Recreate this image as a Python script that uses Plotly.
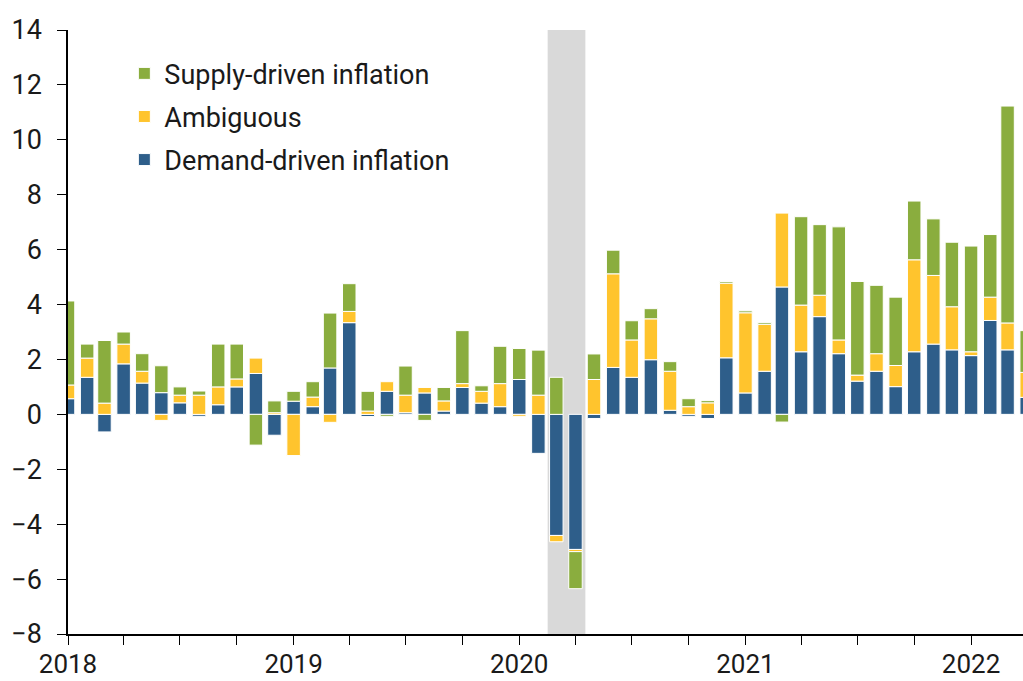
import pandas as pd
import plotly.graph_objects as go

# Monthly contributions to inflation (percentage points), Jan 2018 - Apr 2022
months = pd.date_range("2018-01-01", "2022-04-01", freq="MS")

demand = [
    0.57, 1.35, -0.64, 1.84, 1.14, 0.79, 0.42, -0.07, 0.35, 1.00, 1.49, -0.76,
    0.48, 0.28, 1.69, 3.34, -0.08, 0.84, 0.06, 0.78, 0.12, 0.98, 0.41, 0.28,
    1.27, -1.42, -4.41, -4.92, -0.15, 1.71, 1.35, 1.99, 0.15, -0.07, -0.15, 2.06,
    0.78, 1.57, 4.64, 2.28, 3.56, 2.21, 1.21, 1.57, 1.01, 2.28, 2.56, 2.35,
    2.14, 3.42, 2.35, 0.62,
]
ambiguous = [
    0.50, 0.70, 0.41, 0.72, 0.43, -0.22, 0.28, 0.70, 0.65, 0.29, 0.56, 0.06,
    -1.50, 0.35, -0.29, 0.41, 0.12, 0.35, 0.64, 0.20, 0.37, 0.14, 0.43, 0.84,
    -0.07, 0.70, -0.23, -0.08, 1.27, 3.41, 1.36, 1.49, 1.42, 0.28, 0.42, 2.72,
    2.92, 1.71, 2.69, 1.70, 0.78, 0.50, 0.22, 0.64, 0.77, 3.35, 2.50, 1.57,
    0.14, 0.85, 0.98, 0.91,
]
supply = [
    3.06, 0.51, 2.28, 0.44, 0.64, 0.98, 0.30, 0.15, 1.56, 1.27, -1.12, 0.43,
    0.36, 0.56, 2.00, 1.01, 0.72, -0.07, 1.06, -0.22, 0.49, 1.93, 0.20, 1.36,
    1.13, 1.64, 1.35, -1.35, 0.93, 0.86, 0.70, 0.37, 0.35, 0.29, 0.08, 0.06,
    0.07, 0.06, -0.28, 3.22, 2.57, 4.12, 3.41, 2.49, 2.49, 2.14, 2.06, 2.35,
    3.85, 2.28, 7.90, 1.52,
]

# Stacking order from zero outward; legend lists them top to bottom in reverse
series = [
    ("Demand-driven inflation", demand, "#2E5E8A", 3),
    ("Ambiguous", ambiguous, "#FFC42D", 2),
    ("Supply-driven inflation", supply, "#8AAD3E", 1),
]

# Recession shading (Feb - Apr 2020)
recession = ("2020-02-16", "2020-04-17")

font_family = "Roboto, Arial, sans-serif"
text_color = "#1a1a1a"

fig = go.Figure()
for name, values, color, rank in series:
    fig.add_trace(go.Bar(
        x=months,
        y=values,
        name=name,
        legendgroup=name,
        legendrank=rank,
        marker=dict(color=color, line=dict(color="white", width=1)),
    ))

fig.add_shape(
    type="rect", xref="x", yref="paper",
    x0=recession[0], x1=recession[1], y0=0, y1=1,
    fillcolor="#D9D9D9", line=dict(width=0), layer="below",
)

fig.update_layout(
    width=1023,
    height=681,
    margin=dict(l=68, r=0, t=30, b=47),
    barmode="relative",
    bargap=0.22,
    plot_bgcolor="white",
    paper_bgcolor="white",
    font=dict(family=font_family, size=27, color=text_color),
    legend=dict(
        x=0.059, y=0.968, xanchor="left", yanchor="top",
        traceorder="grouped",
        tracegroupgap=5,
        bgcolor="rgba(0,0,0,0)",
        font=dict(size=27, color=text_color),
    ),
    xaxis=dict(
        type="date",
        range=["2018-01-01", "2022-03-26"],
        dtick="M12",
        tick0="2018-01-01",
        tickformat="%Y",
        tickfont=dict(size=26),
        ticks="outside",
        ticklen=9,
        tickcolor="black",
        showline=True,
        linecolor="black",
        linewidth=1.5,
        showgrid=False,
        zeroline=False,
        automargin=False,
        ticklabelstandoff=-3,
        minor=dict(dtick="M3", ticks="outside", ticklen=9, tickcolor="black", showgrid=False),
    ),
    yaxis=dict(
        range=[-8, 14],
        dtick=2,
        ticks="outside",
        ticklen=9,
        tickcolor="black",
        showline=True,
        linecolor="black",
        linewidth=1.5,
        showgrid=False,
        zeroline=False,
        automargin=False,
        ticklabelstandoff=10,
    ),
)

fig.write_html("out.html")
